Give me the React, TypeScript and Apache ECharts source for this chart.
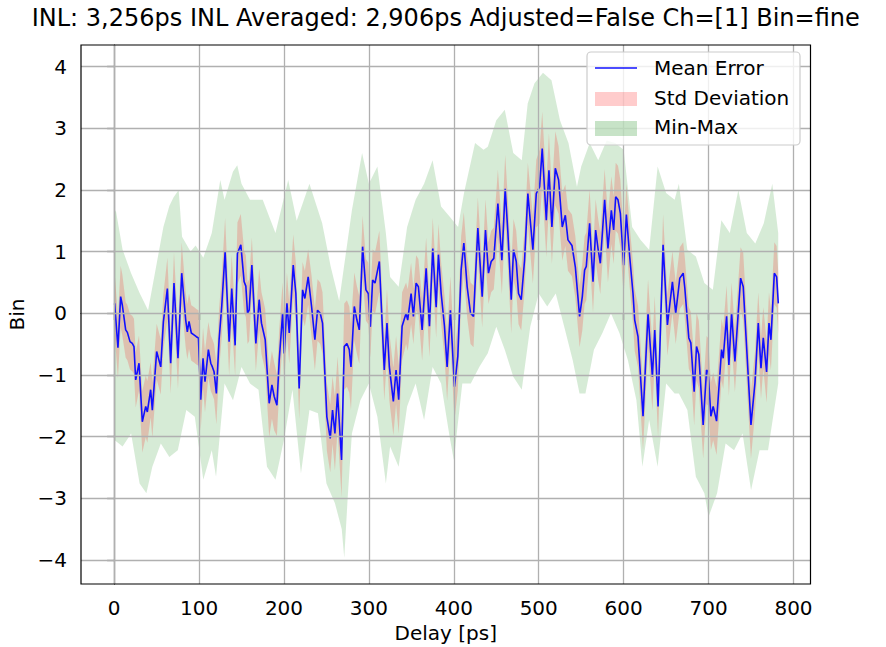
import React, { useEffect, useRef } from "react";
import * as echarts from "echarts";

const titleText = "INL: 3,256ps INL Averaged: 2,906ps Adjusted=False Ch=[1] Bin=fine";
const xAxisName = "Delay [ps]";
const yAxisName = "Bin";
const legendLabels = ["Mean Error", "Std Deviation", "Min-Max"];

const xTicks = [0, 100, 200, 300, 400, 500, 600, 700, 800];
const yTicks = [-4, -3, -2, -1, 0, 1, 2, 3, 4];

// Mean error trace (delay in ps, error in bins)
const delayPs = [
  0.6, 4.5, 7.7, 9.7, 13.6, 15.6, 18.7, 21.4, 23.4, 25.4,
  29.3, 33.2, 37.2, 39.1, 43, 45, 50.1, 54.9, 58, 62.7,
  66.6, 70.5, 75.2, 79.6, 84.3, 86.2, 88.2, 90.9, 94, 96.8,
  99.3, 102, 104.7, 107, 111, 113.8, 115.7, 117.7, 120.4, 123.6,
  126.7, 130.7, 135.4, 138.5, 142.5, 145.2, 149.2, 153.1, 155.1, 157.1,
  159, 162.2, 166.9, 170.8, 173.5, 177.9, 182.6, 185.8, 188.5, 191.7,
  194.4, 198.4, 200.3, 203.5, 206.2, 210.9, 214, 217.9, 221.9, 224.6,
  228.5, 232.5, 236.4, 239.5, 242.7, 245.4, 250.5, 254.5, 257.2, 260,
  263.1, 267.8, 271, 274.1, 276.9, 278.9, 282.8, 285.9, 288.7, 292.6,
  296.5, 299.3, 301.7, 304.4, 307.2, 312.3, 318.1, 321.3, 324.1, 328.8,
  332, 335.1, 339.1, 343.8, 345.7, 349.7, 352.4, 355.6, 358.3, 362.7,
  367.4, 371.3, 375.2, 379.2, 381.9, 385.1, 389, 392.1, 396, 400.8,
  404.7, 408.6, 411.8, 415.7, 419.7, 423.2, 428.3, 433.4, 437.3, 440.8,
  444, 447.1, 451.9, 456.6, 460.5, 463.7, 467.6, 470.3, 473.5, 476.2,
  479.4, 483.3, 487.2, 493.1, 497.1, 501, 504.1, 508.9, 512, 515.5,
  519.5, 523.4, 527.7, 531.3, 534.4, 539.1, 543.1, 548.1, 551.3, 554,
  556, 559.9, 563.9, 567, 569.8, 572.5, 577.6, 581.5, 585.5, 588.2,
  590.6, 593.3, 596.1, 600, 603.2, 607.1, 611, 613, 616.9, 622.8,
  628.7, 633.8, 636.6, 640.5, 646.4, 651.5, 657.4, 661.3, 666.1, 670.1,
  672, 676.7, 679.1, 683, 685.8, 688.5, 693.6, 697.6, 699.5, 702.7,
  705.4, 709.4, 715.3, 717.2, 721.2, 723.9, 727.1, 731, 737.7, 740.8,
  749.9, 754.6, 758.5, 761.7, 764.4, 768.3, 771.1, 773.4, 777.4, 780.1, 782.1,
];
const meanError = [
  0.16, -0.56, 0.27, 0.13, -0.27, -0.31, -0.46, -0.49, -0.54, -1.08,
  -0.81, -1.76, -1.51, -1.6, -1.24, -1.57, -0.62, -0.87, -0.14, 0.4,
  -0.81, 0.49, -0.73, 0.65, -0.11, -0.3, -0.13, -0.32, -0.35, -0.38,
  -0.4, -1.4, -0.73, -1.11, -0.59, -0.81, -0.87, -0.95, -1.3, -0.43,
  0.11, 1.0, -0.46, 0.4, -0.52, 0.97, 1.11, 0.51, 0.44, 0.0,
  0.05, 0.78, -0.49, 0.22, -0.16, -0.43, -1.46, -1.16, -1.35, -1.49,
  -0.76, 0.0, -0.65, 0.16, -0.32, 0.78, 0.32, -1.22, 0.38, 0.24,
  0.59, 0.11, -0.43, 0.05, 0.0, -0.16, -1.68, -2.03, -1.57, -1.95,
  -1.3, -2.38, -0.54, -0.49, -0.59, -0.87, 0.11, -0.11, -0.27, 1.08,
  0.38, 0.32, -0.22, 0.54, 0.49, 0.84, -0.92, -0.16, -0.87, -1.43,
  -0.92, -1.4, -0.21, 0.0, -0.11, 0.32, -0.05, 0.49, 0.43, -0.27,
  0.73, -0.21, 1.05, 0.1, 0.95, 0.32, -0.21, -0.87, 0.05, -1.19,
  -0.7, 0.7, 1.14, 0.43, 0.0, -0.05, 1.38, 0.27, 1.35, 0.65,
  0.84, 0.89, 1.78, 0.86, 2.02, 1.3, 0.22, 1.03, 0.84, 0.32,
  0.22, 0.86, 1.94, 1.03, 1.94, 2.05, 2.67, 1.51, 2.32, 1.4,
  2.35, 2.16, 1.4, 1.59, 1.19, 1.1, 0.75, -0.05, 0.27, 0.7,
  0.76, 1.46, 0.51, 1.35, 1.05, 0.81, 1.84, 1.05, 1.67, 1.35,
  1.89, 1.84, 1.62, 0.78, 1.6, 0.92, 0.32, -0.11, -0.38, -1.67,
  0.0, -1.03, -0.27, -1.51, 1.11, -0.19, 0.51, 0.0, 0.57, 0.65,
  0.41, -0.4, -0.48, -1.27, -0.54, -0.67, -1.81, -0.92, -0.95, -1.67,
  -1.51, -1.75, -0.59, -0.73, -0.05, -0.84, 0.0, -0.78, 0.57, 0.43,
  -1.81, -1.13, -0.16, -0.89, -0.4, -0.95, -0.16, -0.43, 0.65, 0.59, 0.16,
];

// Standard deviation per 10 ps bin
const stdBinWidthPs = 10;
const stdByBin = [
  0.5, 0.45, 0.45, 0.5, 0.45, 0.45, 0.5, 0.5, 0.45, 0.45,
  0.5, 0.45, 0.5, 0.55, 0.5, 0.5, 0.45, 0.5, 0.55, 0.5,
  0.5, 0.5, 0.45, 0.5, 0.5, 0.55, 0.6, 0.7, 0.55, 0.5,
  0.5, 0.5, 0.55, 0.55, 0.5, 0.45, 0.5, 0.5, 0.5, 0.55,
  0.55, 0.5, 0.5, 0.5, 0.5, 0.55, 0.55, 0.5, 0.5, 0.55,
  0.6, 0.6, 0.55, 0.5, 0.5, 0.55, 0.5, 0.5, 0.55, 0.55,
  0.5, 0.5, 0.55, 0.55, 0.5, 0.5, 0.5, 0.5, 0.55, 0.55,
  0.55, 0.5, 0.5, 0.5, 0.55, 0.5, 0.5, 0.5, 0.5,
];

// Upper envelope (max)
const maxDelayPs = [
  0, 2, 10, 20, 30, 40, 50, 58, 65, 70, 76, 80, 90, 96, 105, 115, 125, 130, 140, 145,
  150, 160, 175, 190, 205, 215, 230, 245, 255, 265, 280, 292, 300, 310, 320, 325, 335, 345, 355, 365,
  375, 385, 395, 405, 412, 425, 435, 440, 450, 460, 470, 480, 487, 495, 505, 515, 525, 535, 545, 550,
  560, 570, 580, 590, 600, 610, 620, 630, 640, 650, 660, 665, 675, 685, 695, 705, 715, 725, 735, 745,
  755, 765, 775, 782,
];
const maxValues = [
  1.6, 1.67, 1.03, 0.65, 0.33, 0.05, 0.8, 1.4, 1.74, 1.88, 2.0, 1.24, 1.0, 1.1, 0.9, 1.3, 2.16, 1.84, 2.3, 2.4,
  2.1, 1.84, 1.84, 1.3, 2.16, 1.5, 2.1, 1.46, 0.76, 0.2, 1.67, 2.6, 2.1, 2.38, 1.3, 0.59, 0.43, 1.4, 1.84, 2.1,
  2.48, 1.73, 1.57, 1.4, 1.95, 2.76, 2.65, 2.7, 3.13, 3.3, 2.6, 2.48, 3.4, 3.73, 3.9, 3.78, 3.13, 2.76, 2.05, 2.38,
  2.76, 2.48, 2.8, 2.76, 2.65, 1.4, 1.19, 1.03, 2.38, 1.95, 1.84, 2.1, 1.03, 0.92, 0.49, 0.38, 1.51, 1.3, 2.0, 1.3,
  1.13, 1.46, 2.1, 1.3,
];

// Lower envelope (min)
const minDelayPs = [
  0, 10, 20, 30, 38, 45, 55, 65, 75, 85, 95, 105, 115, 120, 130, 140, 150, 160, 170, 180,
  190, 200, 210, 220, 230, 240, 250, 260, 268, 271, 275, 280, 290, 300, 310, 320, 325, 335, 345, 355,
  365, 375, 385, 395, 400, 410, 420, 430, 440, 450, 460, 470, 480, 490, 500, 510, 520, 530, 540, 548,
  555, 565, 575, 585, 595, 605, 615, 622, 630, 640, 650, 660, 665, 675, 685, 695, 700, 710, 720, 730,
  740, 750, 760, 770, 782,
];
const minValues = [
  -2.05, -2.16, -1.95, -2.76, -2.92, -2.49, -2.11, -2.33, -2.22, -1.57, -1.68, -2.7, -2.22, -2.65, -1.14, -1.41, -0.87, -1.14, -1.24, -2.49,
  -2.7, -2.05, -1.24, -2.6, -1.57, -1.62, -2.76, -3.08, -3.5, -3.97, -3.0, -1.95, -1.41, -1.14, -1.68, -2.76, -2.16, -2.49, -1.51, -1.14,
  -1.73, -0.87, -1.14, -2.0, -2.38, -1.14, -1.14, -0.87, -0.65, -0.22, -0.59, -1.03, -1.24, -0.22, 0.32, 0.11, 0.32, -0.22, -0.76, -1.3,
  -1.3, -0.59, -0.32, 0.0, -0.32, -0.76, -1.41, -2.49, -1.73, -2.49, -1.14, -1.3, -1.3, -1.57, -2.65, -2.92, -3.3, -2.92, -2.11, -2.22,
  -1.95, -2.87, -2.22, -2.22, -1.14,
];

const FONT = "DejaVu Sans";
const GRID_LEFT = 81;
const GRID_RIGHT_EDGE = 810.5;
const GRID_TOP = 45;
const GRID_BOTTOM_EDGE = 584;
const W = 886;
const H = 647;

const STD_COLOR = "rgba(255,0,0,0.18)";
const MINMAX_COLOR = "rgba(0,128,0,0.16)";
const MEAN_COLOR = "#1010ff";

const fmtMinus = (v: number) => (v < 0 ? "\u2212" + Math.abs(v) : String(v));

function polygonBand(
  upperX: number[],
  upperY: number[],
  lowerX: number[],
  lowerY: number[],
  color: string,
  name: string
) {
  return {
    type: "custom",
    name,
    coordinateSystem: "cartesian2d",
    silent: true,
    clip: true,
    z: 2,
    data: [[upperX[0], upperY[0]]],
    renderItem: (params: any, api: any) => {
      if (params.dataIndex !== 0) return null;
      const pts: number[][] = [];
      for (let i = 0; i < upperX.length; i++) pts.push(api.coord([upperX[i], upperY[i]]));
      for (let i = lowerX.length - 1; i >= 0; i--) pts.push(api.coord([lowerX[i], lowerY[i]]));
      return { type: "polygon", shape: { points: pts }, style: { fill: color } };
    },
  };
}

export default function App() {
  const ref = useRef<HTMLDivElement>(null);
  useEffect(() => {
    document.body.style.margin = "0";
    if (!ref.current) return;
    const chart = echarts.init(ref.current, undefined, { renderer: "svg" });

    const stdOf = (x: number) =>
      stdByBin[Math.min(Math.floor(x / stdBinWidthPs), stdByBin.length - 1)];
    const stdUpper = delayPs.map((x, i) => meanError[i] + stdOf(x));
    const stdLower = delayPs.map((x, i) => meanError[i] - stdOf(x));

    const midX = (GRID_LEFT + GRID_RIGHT_EDGE) / 2;
    const midY = (GRID_TOP + GRID_BOTTOM_EDGE) / 2;
    const lgX = 587;
    const lgY = 52;

    const option: any = {
      animation: false,
      backgroundColor: "#ffffff",
      grid: {
        left: GRID_LEFT,
        right: W - GRID_RIGHT_EDGE,
        top: GRID_TOP,
        bottom: H - GRID_BOTTOM_EDGE,
        show: true,
        borderColor: "#000",
        borderWidth: 1.2,
        backgroundColor: "transparent",
        z: 10,
      },
      xAxis: {
        type: "value",
        min: -39,
        max: 820,
        splitLine: { show: false },
        axisLine: { show: true, lineStyle: { color: "#000", width: 1.2 } },
        axisTick: { show: true, customValues: xTicks, length: 7, lineStyle: { color: "#000", width: 1.2 } },
        axisLabel: {
          customValues: xTicks,
          color: "#000",
          fontSize: 20,
          fontFamily: FONT,
          margin: 14,
        },
      },
      yAxis: {
        type: "value",
        min: -4.39,
        max: 4.35,
        splitLine: { show: false },
        axisLine: { show: true, lineStyle: { color: "#000", width: 1.2 } },
        axisTick: { show: true, customValues: yTicks, length: 7, lineStyle: { color: "#000", width: 1.2 } },
        axisLabel: {
          customValues: yTicks,
          color: "#000",
          fontSize: 20,
          fontFamily: FONT,
          margin: 14,
          formatter: (v: number) => fmtMinus(v),
        },
      },
      series: [
        {
          type: "line",
          name: "grid",
          data: [[0, 0]],
          showSymbol: false,
          silent: true,
          lineStyle: { opacity: 0 },
          z: 1,
          markLine: {
            silent: true,
            symbol: ["none", "none"],
            label: { show: false },
            animation: false,
            lineStyle: { color: "#b0b0b0", width: 1.3, type: "solid" },
            data: [
              ...xTicks.map((v) => ({ xAxis: v })),
              ...yTicks.map((v) => ({ yAxis: v })),
            ],
          },
        },
        polygonBand(maxDelayPs, maxValues, minDelayPs, minValues, MINMAX_COLOR, legendLabels[2]),
        polygonBand(delayPs, stdUpper, delayPs, stdLower, STD_COLOR, legendLabels[1]),
        {
          type: "line",
          name: legendLabels[0],
          data: delayPs.map((x, i) => [x, meanError[i]]),
          showSymbol: false,
          symbol: "none",
          lineStyle: { color: MEAN_COLOR, width: 1.6 },
          z: 4,
        },
      ],
      graphic: [
        {
          type: "text",
          x: midX,
          y: 18,
          z: 100,
          style: {
            text: titleText,
            font: `24px "${FONT}"`,
            fill: "#000",
            align: "center",
            verticalAlign: "middle",
            textAlign: "center",
            textVerticalAlign: "middle",
          },
        },
        {
          type: "text",
          x: midX,
          y: 633,
          z: 100,
          style: {
            text: xAxisName,
            font: `20px "${FONT}"`,
            fill: "#000",
            align: "center",
            verticalAlign: "middle",
            textAlign: "center",
            textVerticalAlign: "middle",
          },
        },
        {
          type: "text",
          x: 17,
          y: midY,
          rotation: Math.PI / 2,
          z: 100,
          style: {
            text: yAxisName,
            font: `20px "${FONT}"`,
            fill: "#000",
            align: "center",
            verticalAlign: "middle",
            textAlign: "center",
            textVerticalAlign: "middle",
          },
        },
        {
          type: "rect",
          z: 100,
          shape: { x: lgX, y: lgY, width: 213, height: 93, r: 4 },
          style: { fill: "rgba(255,255,255,0.8)", stroke: "#cccccc", lineWidth: 1.2 },
        },
        {
          type: "line",
          z: 101,
          shape: { x1: lgX + 8, y1: lgY + 16, x2: lgX + 50, y2: lgY + 16 },
          style: { stroke: MEAN_COLOR, lineWidth: 1.6 },
        },
        {
          type: "rect",
          z: 101,
          shape: { x: lgX + 8, y: lgY + 40, width: 42, height: 14 },
          style: { fill: "rgba(255,0,0,0.2)" },
        },
        {
          type: "rect",
          z: 101,
          shape: { x: lgX + 8, y: lgY + 69, width: 42, height: 15 },
          style: { fill: "rgba(0,128,0,0.22)" },
        },
        ...legendLabels.map((t, i) => ({
          type: "text",
          x: lgX + 67,
          y: lgY + 16 + i * 29.5,
          z: 101,
          style: {
            text: t,
            font: `20px "${FONT}"`,
            fill: "#000",
            align: "left",
            verticalAlign: "middle",
            textAlign: "left",
            textVerticalAlign: "middle",
          },
        })),
      ],
    };
    chart.setOption(option);
    return () => chart.dispose();
  }, []);
  return (
    <div
      ref={ref}
      style={{ position: "absolute", left: 0, top: 0, width: W, height: H, background: "#fff" }}
    />
  );
}
